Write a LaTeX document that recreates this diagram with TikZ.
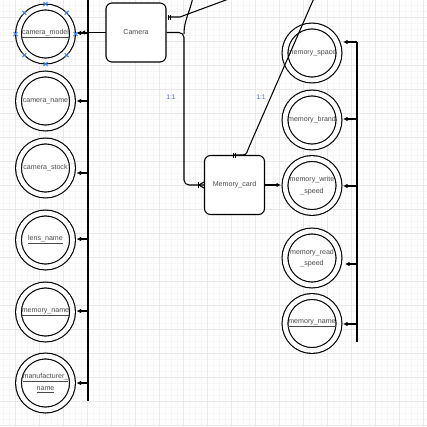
\documentclass[tikz,border=0pt]{standalone}
\usepackage{fontspec}
\setmainfont{Liberation Sans}
\usetikzlibrary{arrows.meta}
\definecolor{gmajor}{HTML}{E8E8E8}
\definecolor{gminor}{HTML}{F6F6F6}
\definecolor{txt}{HTML}{4A4A4A}
\definecolor{lblc}{HTML}{5466BE}
\definecolor{selc}{HTML}{2F80ED}
\begin{document}
\begin{tikzpicture}[x=1pt,y=-1pt,
  attr/.style={circle, draw, fill=white, line width=1.15pt, double, double distance=4.7pt,
    minimum size=54pt, inner sep=0pt, outer sep=4pt, text=txt, align=center,
    font=\fontsize{7.1}{11.5}\selectfont},
  entity/.style={rectangle, rounded corners=6pt, draw, fill=white, line width=1.1pt,
    minimum width=60pt, minimum height=59pt, inner sep=0pt, outer sep=0.5pt, text=txt,
    font=\fontsize{7.1}{9}\selectfont},
  conn/.style={line width=1.05pt},
  arr/.style={conn, -{Latex[length=4.5pt,width=4.5pt]}},
  lbl/.style={text=lblc, font=\fontsize{6.8}{8}\selectfont, inner sep=0pt},
  selx/.style={draw=selc, line width=0.8pt}
]
\useasboundingbox (0,0) rectangle (427,426);
\fill[white] (0,0) rectangle (427,426);
% grid
\foreach \i in {0,...,73} \draw[gminor, line width=0.6pt] ({-8.3+6*\i},0) -- ({-8.3+6*\i},426);
\foreach \i in {0,...,73} \draw[gminor, line width=0.6pt] (0,{-6.7+6*\i}) -- (427,{-6.7+6*\i});
\foreach \i in {0,...,17} \draw[gmajor, line width=0.9pt] ({15.7+24*\i},0) -- ({15.7+24*\i},426);
\foreach \i in {0,...,17} \draw[gmajor, line width=0.9pt] (0,{17.3+24*\i}) -- (427,{17.3+24*\i});

% entities
\node[entity] (cam) at (136,32.5) {Camera};
\node[entity] (mc) at (234.5,185) {Memory\_card};

% left attributes
\node[attr] (cmodel) at (45.5,34) {\underline{camera\_model}};
\node[attr] (cname) at (45.5,101) {camera\_name};
\node[attr] (cstock) at (45.5,168) {camera\_stock};
\node[attr] (lens) at (45.5,240) {\underline{lens\_name}};
\node[attr] (mnameL) at (45.5,312) {\underline{memory\_name}};
\node[attr] (manuf) at (45.5,383) {\underline{manufacturer\_}\\\underline{name}};

% right attributes
\node[attr] (mspace) at (312,53) {memory\_space};
\node[attr] (mbrand) at (312,120) {memory\_brand};
\node[attr] (mwrite) at (312,185.5) {memory\_write\\\_speed};
\node[attr] (mread) at (312,258) {memory\_read\\\_speed};
\node[attr] (mnameR) at (312,323.5) {\underline{memory\_name}};

% selection handles on camera_model
\foreach \a in {0,45,...,315}
  \draw[selx] ([shift={(\a:30)}]cmodel.center) +(-2,-2) -- +(2,2) +(-2,2) -- +(2,-2);

% left bus
\coordinate (bLtop) at (88,-1);
\coordinate (bLbot) at (88,401);
\draw[conn] (bLtop) -- (bLbot);
\coordinate (bL1) at (88,33);
\coordinate (bL2) at (88,101);
\coordinate (bL3) at (88,173);
\coordinate (bL4) at (88,239);
\coordinate (bL5) at (88,311);
\coordinate (bL6) at (88,383);
\draw[arr] (bL1) -- (bL1 -| cmodel.east);
\draw[arr] (bL2) -- (bL2 -| cname.east);
\draw[arr] (bL3) -- (bL3 -| cstock.east);
\draw[arr] (bL4) -- (bL4 -| lens.east);
\draw[arr] (bL5) -- (bL5 -| mnameL.east);
\draw[arr] (bL6) -- (bL6 -| manuf.east);
\draw[arr] (cam.west) -- ([xshift=4pt]cam.west -| cmodel.east);

% right bus
\coordinate (bR1) at (357,42);
\coordinate (bR2) at (357,119);
\coordinate (bR3) at (357,186);
\coordinate (bR4) at (357,264);
\coordinate (bR5) at (357,324);
\coordinate (bRbot) at (357,342);
\draw[conn] (bR1) -- (bRbot);
\draw[arr] (bR1) -- (bR1 -| mspace.east);
\draw[arr] (bR2) -- (bR2 -| mbrand.east);
\draw[arr] (bR3) -- (bR3 -| mwrite.east);
\draw[arr] (bR4) -- ([xshift=2pt]bR4 -| mread.east);
\draw[arr] (bR5) -- (bR5 -| mnameR.east);

% Memory_card -> memory_write_speed
\draw[arr] (mc.east) -- (mc.east -| mwrite.west);

% Camera -> Memory_card
\coordinate (j1) at (184,185);
\draw[conn, rounded corners=5pt] (cam.east) -| (j1) -- (mc.west);
\draw[conn] ([xshift=-5pt]mc.west) -- ([yshift=-3pt]mc.west)
            ([xshift=-5pt]mc.west) -- ([yshift=3pt]mc.west);
\draw[conn] ([xshift=-5.5pt,yshift=-3pt]mc.west) -- ([xshift=-5.5pt,yshift=3pt]mc.west);

% edge from above joining the vertical
\coordinate (offB) at (193,-3);
\coordinate (jB) at (184,34);
\draw[conn] (offB) .. controls (190,12) and (184,20) .. (jB);

% Camera top-right edge (off picture)
\coordinate (offA) at (234,-3);
\coordinate (kA) at (180,17);
\draw[conn, shorten >=1pt, -{Bar[width=5pt,sep=1.3pt]Bar[width=5pt]}] (offA) -- (kA) -- (cam.east |- kA);

% Memory_card top edge (off picture)
\coordinate (offC) at (314.5,-3);
\coordinate (kC) at (249,147);
\coordinate (kC2) at (243,155);
\draw[conn, -{Bar[width=5pt,sep=1.3pt]Bar[width=5pt]}] (offC) -- (kC) to[out=247,in=0] (kC2) -- ([xshift=-2pt]mc.north);

% cardinality labels
\node[lbl] (l1) at (171,97) {1:1};
\node[lbl] (l2) at (261,97) {1:1};
\end{tikzpicture}
\end{document}
